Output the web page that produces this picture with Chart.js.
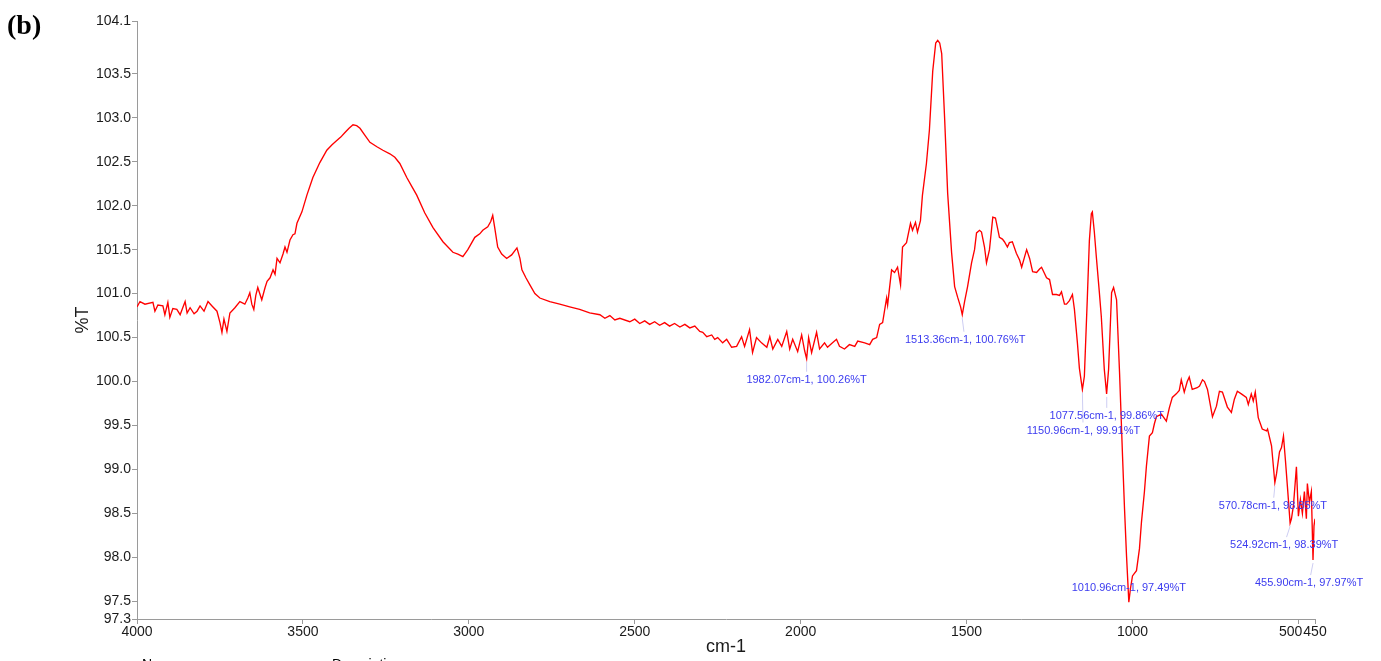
<!DOCTYPE html>
<html>
<head>
<meta charset="utf-8">
<title>FTIR (b)</title>
<script src="https://cdn.jsdelivr.net/npm/chart.js@4.4.1/dist/chart.umd.min.js"></script>
<style>
  html, body { margin: 0; padding: 0; background: #fff; overflow: hidden; }
  #wrap { position: relative; width: 1381px; height: 661px; overflow: hidden; }
  #spectrum { position: absolute; left: 0; top: 0; }
  #panel { position: absolute; left: 7px; top: 9px; line-height: 28px;
           font: bold 28px "Liberation Serif", "Times New Roman", serif; color: #000; }
  .foot { position: absolute; top: 656px; line-height: 14px;
          font: 14px "Liberation Sans", Arial, sans-serif; color: #000; }
</style>
</head>
<body>
<div id="wrap">
  <canvas id="spectrum" width="1381" height="661"></canvas>
  <div id="panel">(b)</div>
  <div class="foot" style="left:142px">Name</div>
  <div class="foot" style="left:332px">Description</div>
</div>
<script>
(function() {
  "use strict";

  // spectrum: wavenumber (cm-1) and transmittance (%T)
  const wavenumbers = [
    4000, 3991, 3976, 3952, 3946, 3937, 3922, 3916, 3907, 3901, 3892, 3880, 3870, 3861, 3855, 3849,
    3840, 3828, 3819, 3810, 3798, 3786, 3774, 3759, 3750, 3744, 3738, 3729, 3720, 3705, 3690, 3675,
    3666, 3660, 3654, 3648, 3642, 3636, 3624, 3614, 3608, 3599, 3590, 3584, 3578, 3569, 3560, 3554,
    3548, 3539, 3530, 3524, 3518, 3503, 3488, 3470, 3449, 3428, 3413, 3398, 3386, 3374, 3361, 3349,
    3338, 3328, 3313, 3298, 3277, 3259, 3238, 3223, 3208, 3187, 3172, 3157, 3133, 3108, 3078, 3048,
    3033, 3018, 3003, 2982, 2967, 2958, 2943, 2934, 2928, 2922, 2913, 2901, 2886, 2871, 2855, 2846,
    2840, 2828, 2816, 2801, 2786, 2756, 2726, 2696, 2666, 2636, 2605, 2590, 2575, 2560, 2545, 2515,
    2500, 2485, 2470, 2455, 2440, 2425, 2410, 2395, 2380, 2364, 2349, 2334, 2319, 2304, 2295, 2283,
    2268, 2259, 2250, 2235, 2223, 2208, 2193, 2178, 2169, 2154, 2145, 2133, 2118, 2102, 2093, 2084,
    2069, 2057, 2042, 2033, 2024, 2009, 1997, 1988, 1982, 1976, 1967, 1952, 1943, 1928, 1919, 1904,
    1892, 1883, 1868, 1853, 1837, 1828, 1807, 1792, 1783, 1771, 1762, 1753, 1741, 1738, 1726, 1717,
    1708, 1699, 1693, 1681, 1669, 1663, 1654, 1648, 1639, 1633, 1621, 1612, 1602, 1593, 1587, 1581,
    1575, 1566, 1557, 1545, 1536, 1527, 1518, 1513, 1506, 1497, 1485, 1476, 1470, 1461, 1455, 1446,
    1440, 1431, 1421, 1413, 1401, 1392, 1386, 1377, 1371, 1362, 1350, 1340, 1334, 1325, 1319, 1310,
    1301, 1289, 1280, 1274, 1259, 1250, 1241, 1229, 1220, 1214, 1205, 1199, 1190, 1181, 1175, 1166,
    1160, 1151, 1145, 1136, 1130, 1124, 1121, 1115, 1109, 1100, 1094, 1085, 1078, 1072, 1063, 1057,
    1048, 1039, 1030, 1024, 1018, 1011, 1006, 1000, 988, 979, 973, 964, 958, 949, 940, 934,
    928, 913, 898, 889, 880, 868, 859, 853, 844, 835, 829, 820, 805, 798, 789, 783,
    774, 759, 747, 738, 729, 714, 702, 693, 684, 672, 657, 651, 642, 636, 630, 621,
    609, 596, 593, 581, 571, 566, 557, 551, 545, 539, 533, 525, 521, 515, 506, 500,
    494, 488, 482, 476, 473, 467, 461, 456, 453, 450
  ];
  const transmittance = [
    100.85, 100.91, 100.88, 100.90, 100.80, 100.87, 100.86, 100.76, 100.90, 100.73, 100.83, 100.82, 100.76, 100.85, 100.91, 100.78,
    100.84, 100.77, 100.80, 100.86, 100.80, 100.91, 100.86, 100.80, 100.67, 100.56, 100.71, 100.57, 100.78, 100.84, 100.91, 100.88,
    100.95, 101.01, 100.88, 100.82, 100.98, 101.07, 100.93, 101.07, 101.14, 101.18, 101.27, 101.22, 101.40, 101.35, 101.45, 101.53,
    101.47, 101.61, 101.67, 101.68, 101.80, 101.93, 102.12, 102.32, 102.49, 102.63, 102.69, 102.74, 102.78, 102.83, 102.88, 102.92,
    102.91, 102.88, 102.80, 102.72, 102.67, 102.63, 102.59, 102.55, 102.48, 102.32, 102.22, 102.12, 101.92, 101.75, 101.59, 101.47,
    101.45, 101.42, 101.50, 101.64, 101.68, 101.72, 101.76, 101.82, 101.89, 101.75, 101.53, 101.45, 101.40, 101.44, 101.52, 101.40,
    101.27, 101.18, 101.10, 101.00, 100.95, 100.91, 100.88, 100.85, 100.82, 100.78, 100.76, 100.72, 100.75, 100.70, 100.72, 100.68,
    100.71, 100.66, 100.69, 100.65, 100.68, 100.64, 100.67, 100.63, 100.66, 100.62, 100.65, 100.61, 100.63, 100.57, 100.56, 100.51,
    100.53, 100.48, 100.50, 100.44, 100.48, 100.39, 100.40, 100.51, 100.40, 100.59, 100.33, 100.50, 100.44, 100.39, 100.51, 100.37,
    100.48, 100.40, 100.57, 100.37, 100.48, 100.34, 100.53, 100.35, 100.26, 100.50, 100.33, 100.56, 100.37, 100.44, 100.39, 100.44,
    100.48, 100.40, 100.37, 100.42, 100.40, 100.46, 100.44, 100.42, 100.48, 100.50, 100.65, 100.67, 100.95, 100.87, 101.27, 101.24,
    101.30, 101.10, 101.53, 101.58, 101.80, 101.72, 101.81, 101.70, 101.83, 102.12, 102.48, 102.86, 103.53, 103.85, 103.88, 103.85,
    103.73, 102.98, 102.14, 101.46, 101.08, 100.96, 100.85, 100.76, 100.91, 101.08, 101.35, 101.50, 101.69, 101.72, 101.70, 101.53,
    101.35, 101.50, 101.87, 101.86, 101.64, 101.62, 101.59, 101.53, 101.58, 101.59, 101.46, 101.38, 101.30, 101.42, 101.50, 101.40,
    101.25, 101.24, 101.28, 101.30, 101.18, 101.16, 100.99, 100.99, 100.98, 101.02, 100.88, 100.88, 100.92, 100.99, 100.82, 100.44,
    100.15, 99.91, 100.06, 100.96, 101.60, 101.91, 101.93, 101.70, 101.42, 101.02, 100.74, 100.14, 99.86, 100.14, 101.01, 101.07,
    100.93, 100.10, 99.15, 98.55, 98.02, 97.49, 97.65, 97.79, 97.85, 98.10, 98.40, 98.75, 99.04, 99.38, 99.42, 99.52,
    99.60, 99.63, 99.55, 99.70, 99.82, 99.86, 99.90, 100.02, 99.88, 100.00, 100.05, 99.91, 99.93, 99.95, 100.02, 100.00,
    99.91, 99.60, 99.72, 99.89, 99.88, 99.71, 99.65, 99.80, 99.89, 99.86, 99.82, 99.74, 99.86, 99.78, 99.88, 99.59,
    99.46, 99.44, 99.46, 99.27, 98.85, 98.95, 99.20, 99.25, 99.38, 99.10, 98.80, 98.39, 98.44, 98.59, 99.03, 98.47,
    98.66, 98.50, 98.75, 98.44, 98.84, 98.63, 98.75, 97.97, 98.36, 98.44
  ];

  // tick positions shown on the axes
  const xTicks = [4000, 3500, 3000, 2500, 2000, 1500, 1000, 500, 450];
  const yTicks = [104.1, 103.5, 103.0, 102.5, 102.0, 101.5, 101.0, 100.5, 100.0, 99.5, 99.0, 98.5, 98.0, 97.5, 97.3];

  // peak labels
  const peakWn = [1982.07, 1513.36, 1150.96, 1077.56, 1010.96, 570.78, 524.92, 455.90];
  const peakT = [100.26, 100.76, 99.91, 99.86, 97.49, 98.85, 98.39, 97.97];
  const peakOffset = [[0, 21], [3, 25], [1, 41], [0, 22], [0, -14], [-2, 23], [-6, 22], [-4, 23]];

  const sans = '"Liberation Sans", Arial, Helvetica, sans-serif';
  const axisGrey = '#9a9a9a';

  // draws the blue peak captions and their faint leader lines
  const peakLabels = {
    id: 'peakLabels',
    afterDatasetsDraw(chart) {
      const ctx = chart.ctx;
      const xs = chart.scales.x;
      const ys = chart.scales.y;
      ctx.save();
      ctx.font = '11px ' + sans;
      ctx.textAlign = 'center';
      ctx.textBaseline = 'middle';
      peakWn.forEach(function(wn, i) {
        const px = xs.getPixelForValue(wn);
        const py = ys.getPixelForValue(peakT[i]);
        const dx = peakOffset[i][0];
        const dy = peakOffset[i][1];
        if (dy > 0) {
          ctx.strokeStyle = '#cdcdf2';
          ctx.lineWidth = 1;
          ctx.beginPath();
          ctx.moveTo(px, py + 3);
          ctx.lineTo(px + dx * 0.6, py + dy - 8);
          ctx.stroke();
        }
        ctx.fillStyle = '#3b3bef';
        ctx.fillText(wn.toFixed(2) + 'cm-1, ' + peakT[i].toFixed(2) + '%T', px + dx, py + dy);
      });
      ctx.restore();
    }
  };

  new Chart(document.getElementById('spectrum'), {
    type: 'line',
    data: {
      datasets: [{
        label: 'spectrum',
        data: wavenumbers.map(function(w, i) { return { x: w, y: transmittance[i] }; }),
        borderColor: '#ff0000',
        borderWidth: 1.35,
        pointRadius: 0,
        tension: 0,
        fill: false
      }]
    },
    options: {
      responsive: false,
      animation: false,
      events: [],
      layout: { padding: { top: 21, right: 66, bottom: 0, left: 0 } },
      plugins: { legend: { display: false }, tooltip: { enabled: false } },
      scales: {
        x: {
          type: 'linear',
          reverse: true,
          min: 450,
          max: 4000,
          afterBuildTicks: function(s) { s.ticks = xTicks.map(function(v) { return { value: v }; }); },
          afterFit: function(s) { s.height = 42; },
          grid: { drawOnChartArea: false, drawTicks: true, tickLength: 5, color: axisGrey },
          border: { color: axisGrey, width: 1 },
          ticks: {
            autoSkip: false,
            maxRotation: 0,
            padding: 0,
            color: '#1a1a1a',
            font: { family: sans, size: 14 },
            // nudge "500" left so it sits against "450" as in the original print
            callback: function(v) { return v === 500 ? '500    ' : String(v); }
          },
          title: {
            display: true,
            text: 'cm-1',
            color: '#1a1a1a',
            font: { family: sans, size: 18 },
            padding: { top: 0, bottom: 3 }
          }
        },
        y: {
          min: 97.3,
          max: 104.1,
          afterBuildTicks: function(s) { s.ticks = yTicks.map(function(v) { return { value: v }; }); },
          afterFit: function(s) { s.width = 137; },
          grid: { drawOnChartArea: false, drawTicks: true, tickLength: 5, color: axisGrey },
          border: { color: axisGrey, width: 1 },
          ticks: {
            autoSkip: false,
            padding: 1,
            color: '#1a1a1a',
            font: { family: sans, size: 14 },
            callback: function(v) { return Number(v).toFixed(1); }
          },
          title: {
            display: true,
            text: '%T',
            color: '#1a1a1a',
            font: { family: sans, size: 18 },
            padding: { top: 72, bottom: 0 }
          }
        }
      }
    },
    plugins: [peakLabels]
  });
})();
</script>
</body>
</html>
